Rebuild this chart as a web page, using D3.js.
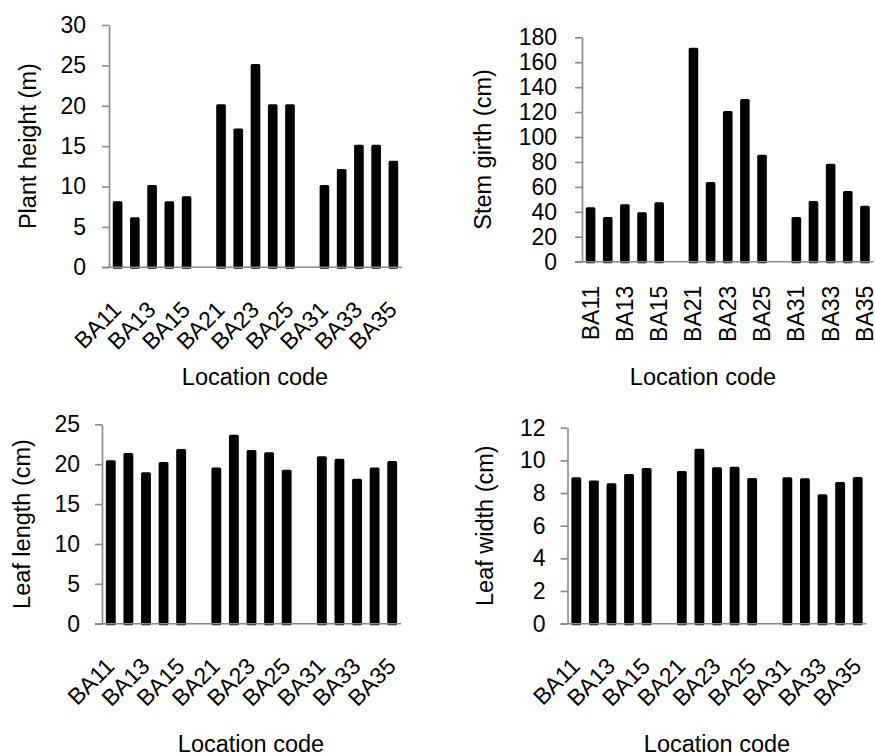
<!DOCTYPE html>
<html>
<head>
<meta charset="utf-8">
<script src="https://cdn.jsdelivr.net/npm/d3@7"></script>
<style>
  html, body { margin: 0; padding: 0; background: #fff; }
  svg { display: block; font-family: "Liberation Sans", Arial, sans-serif; }
</style>
</head>
<body>
<svg id="chart" width="875" height="753"></svg>
<script>
// ---- data ----
const categories = ["BA11","BA12","BA13","BA14","BA15","gap1","BA21","BA22","BA23","BA24","BA25","gap2","BA31","BA32","BA33","BA34","BA35"];
const xTickLabels = ["BA11","BA13","BA15","BA21","BA23","BA25","BA31","BA33","BA35"];
const plantHeight = [8, 6, 10, 8, 8.6, null, 20, 17, 25, 20, 20, null, 10, 12, 15, 15, 13];
const stemGirth = [42.5, 34.6, 44.8, 38.4, 46.4, null, 170.5, 62.7, 119.7, 129.3, 84.6, null, 34.6, 47.5, 77.4, 55.5, 43.7];
const leafLength = [20.3, 21.2, 18.8, 20.1, 21.7, null, 19.4, 23.5, 21.6, 21.3, 19.1, null, 20.8, 20.5, 18.0, 19.4, 20.2];
const leafWidth = [8.87, 8.68, 8.5, 9.07, 9.44, null, 9.26, 10.62, 9.48, 9.52, 8.83, null, 8.87, 8.81, 7.83, 8.58, 8.89];
const plantHeightTicks = [0, 5, 10, 15, 20, 25, 30];
const stemGirthTicks = [0, 20, 40, 60, 80, 100, 120, 140, 160, 180];
const leafLengthTicks = [0, 5, 10, 15, 20, 25];
const leafWidthTicks = [0, 2, 4, 6, 8, 10, 12];
const yTitles = ["Plant height (m)", "Stem girth (cm)", "Leaf length (cm)", "Leaf width (cm)"];
const xTitle = "Location code";

// ---- layout ----
const panels = [
  { values: plantHeight, ticks: plantHeightTicks, title: yTitles[0],
    x0: 109, x1: 402, yTop: 25, yBot: 267.3, pad: 16, rot: -45,
    yTitleX: 28, xTitleX: 255, xTitleY: 385 },
  { values: stemGirth, ticks: stemGirthTicks, title: yTitles[1],
    x0: 582, x1: 873.5, yTop: 37.3, yBot: 261.7, pad: 18, rot: -90,
    yTitleX: 483, xTitleX: 703, xTitleY: 385 },
  { values: leafLength, ticks: leafLengthTicks, title: yTitles[2],
    x0: 102, x1: 401, yTop: 424.3, yBot: 623.7, pad: 15, rot: -45,
    yTitleX: 22, xTitleX: 251, xTitleY: 752 },
  { values: leafWidth, ticks: leafWidthTicks, title: yTitles[3],
    x0: 567.5, x1: 866.5, yTop: 427.7, yBot: 623.7, pad: 15, rot: -45,
    yTitleX: 485, xTitleX: 717, xTitleY: 752 }
];

const svg = d3.select("#chart");
const axisColor = "#888888";
const fsTick = 23;
const fsTitle = 23.5;

panels.forEach(p => {
  const g = svg.append("g");
  const x = d3.scaleBand().domain(categories).range([p.x0, p.x1]).padding(0);
  const y = d3.scaleLinear().domain([0, d3.max(p.ticks)]).range([p.yBot, p.yTop]);
  const bw = x.bandwidth() * 0.56 - 3;

  const data = categories.map((c, i) => ({ c, v: p.values[i] })).filter(d => d.v != null);

  // bars
  g.selectAll("rect.bar").data(data).join("rect")
    .attr("class", "bar")
    .attr("x", d => x(d.c) + x.bandwidth() / 2 - bw / 2)
    .attr("width", bw)
    .attr("y", d => y(d.v))
    .attr("height", d => y(0) - y(d.v))
    .attr("fill", "#000")
    .attr("stroke", "#000")
    .attr("stroke-width", 3)
    .attr("stroke-linejoin", "round");

  // y axis
  const yAxis = g.append("g")
    .attr("transform", `translate(${p.x0},0)`)
    .call(d3.axisLeft(y).tickValues(p.ticks).tickSize(7).tickSizeOuter(0).tickPadding(p.pad));
  yAxis.select(".domain").attr("stroke", axisColor).attr("stroke-width", 1.6);
  yAxis.selectAll(".tick line").attr("stroke", axisColor).attr("stroke-width", 1.6);
  yAxis.selectAll(".tick text").attr("font-size", fsTick).attr("fill", "#000")
    .attr("font-family", "Liberation Sans, Arial, sans-serif");

  // x axis baseline
  g.append("line")
    .attr("x1", p.x0 - 7).attr("x2", p.x1)
    .attr("y1", y(0)).attr("y2", y(0))
    .attr("stroke", axisColor).attr("stroke-width", 1.6);

  // x axis labels
  const xAxis = g.append("g")
    .attr("transform", `translate(0,${y(0)})`)
    .call(d3.axisBottom(x).tickValues(xTickLabels).tickSize(0));
  xAxis.select(".domain").remove();
  const xt = xAxis.selectAll(".tick text")
    .attr("font-size", fsTick).attr("fill", "#000")
    .attr("font-family", "Liberation Sans, Arial, sans-serif")
    .attr("text-anchor", "end")
    .attr("dy", null);
  if (p.rot === -90) {
    xt.attr("transform", "translate(8,24) rotate(-90)").attr("x", 0).attr("y", 0);
  } else {
    xt.attr("transform", "translate(5,44) rotate(-45)").attr("x", 0).attr("y", 0);
  }

  // y title
  g.append("text")
    .attr("transform", `translate(${p.yTitleX},${(p.yTop + p.yBot) / 2}) rotate(-90)`)
    .attr("text-anchor", "middle")
    .attr("dy", "0.35em")
    .attr("font-size", fsTitle)
    .attr("fill", "#000")
    .text(p.title);

  // x title
  g.append("text")
    .attr("x", p.xTitleX)
    .attr("y", p.xTitleY)
    .attr("text-anchor", "middle")
    .attr("font-size", fsTitle)
    .attr("fill", "#000")
    .text(xTitle);
});
</script>
</body>
</html>
